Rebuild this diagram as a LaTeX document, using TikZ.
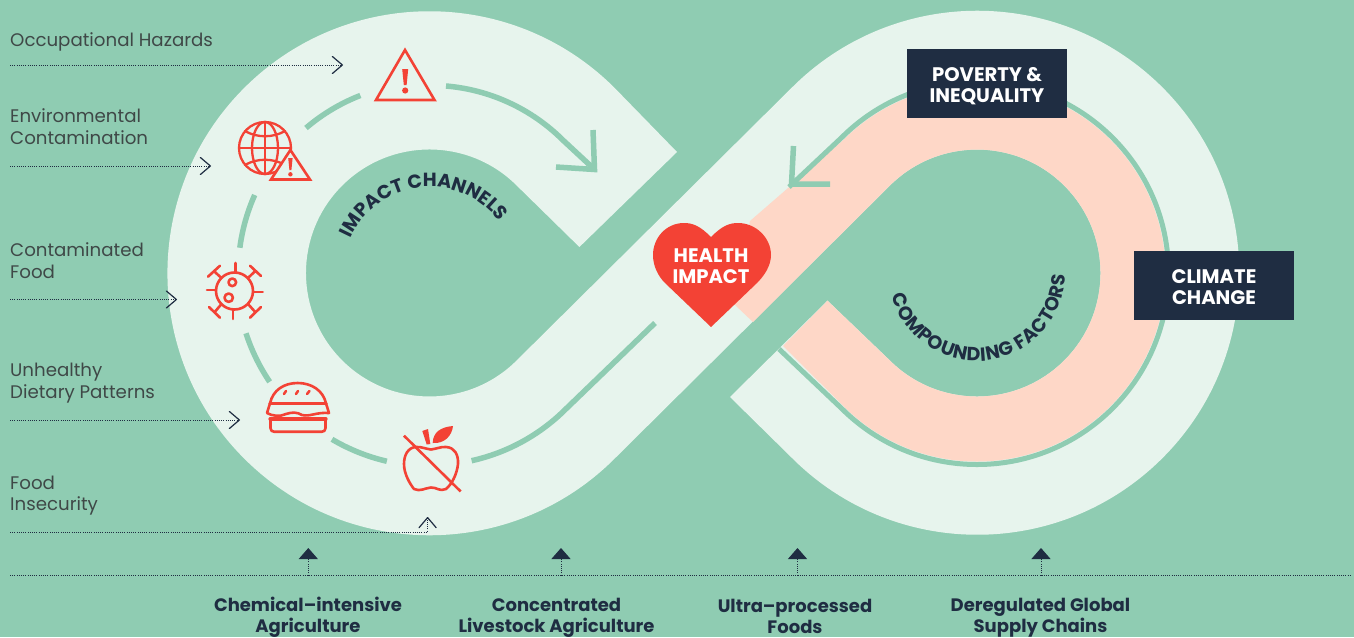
\documentclass[tikz,border=0pt]{standalone}
\usepackage{fontspec}
\setmainfont{Poppins}
\usetikzlibrary{arrows.meta,decorations.text}
\definecolor{bggreen}{HTML}{8FCCB2}
\definecolor{lightband}{HTML}{E7F4ED}
\definecolor{peach}{HTML}{FED7C7}
\definecolor{darkblue}{HTML}{1F2D42}
\definecolor{hred}{HTML}{F34235}
\definecolor{greytext}{HTML}{3F4847}
\newcommand{\lblfont}{\fontsize{18.2}{21.7}\selectfont}
\newcommand{\boldfont}{\fontsize{18}{21}\selectfont\bfseries}
\newcommand{\boxfont}{\fontsize{19.6}{21}\selectfont\bfseries}
\newcommand{\curvefont}{\fontsize{19}{19}\selectfont\bfseries\color{darkblue}}
\tikzset{
  x=1pt,y=1pt,
  lbl/.style={anchor=west,align=left,inner sep=0pt,text=greytext,font=\lblfont},
  botlbl/.style={anchor=center,align=center,inner sep=0pt,text=darkblue,font=\boldfont},
  boxlbl/.style={anchor=center,align=center,inner sep=0pt,text=white,font=\boxfont},
  darkbox/.style={fill=darkblue,draw=none,inner sep=0pt,minimum width=160pt,minimum height=69pt},
  dotline/.style={draw=darkblue,line width=1pt,dash pattern=on 1pt off 1.2pt},
  chevron/.style={dotline,-{Straight Barb[length=10pt,width=17pt,line width=1.2pt,round]}},
  tritip/.style={dotline,-{Triangle[length=11pt,width=19pt,fill=darkblue]}},
  flowline/.style={draw=bggreen,line width=5.5pt},
  icon/.style={draw=hred,line width=2.6pt,line join=round,line cap=round},
}
\begin{document}
\begin{tikzpicture}
\useasboundingbox (0,0) rectangle (1354,-637);
\fill[bggreen] (0,0) rectangle (1354,-637);
% band
\fill[lightband] (677,-152) -- (614.7,-88)
  arc[start angle=45,end angle=315,radius=262] -- (889.7,-185.7)
  arc[start angle=135,end angle=-135,radius=123.5] -- (827.5,-300.7) -- (730,-397) -- (792,-458)
  arc[start angle=225,end angle=495,radius=262] -- (516.8,-360.3)
  arc[start angle=315,end angle=45,radius=123.5] -- (579.4,-247) -- cycle;
% peach
\fill[peach] (753,-322) -- (889.7,-185.7)
  arc[start angle=135,end angle=-135,radius=123.5] -- (827.5,-300.7) -- (783,-346) -- (843.7,-406.3)
  arc[start angle=225,end angle=495,radius=188.5] -- (750,-221) -- (735,-305) -- cycle;
% flow lines
\coordinate (fa) at (789,-187);
\coordinate (fb) at (841.6,-137.6);
\coordinate (fc) at (779,-349);
\draw[draw=bggreen,line width=5pt] (fa) -- (fb) arc[start angle=135,end angle=-135,radius=191.5] -- (fc);
\draw[flowline,line join=miter] (793.5,-146) -- (791.5,-184) -- (830,-184);
\draw[flowline] (446,-86) arc[start angle=85.2,end angle=45,radius=188] -- (594,-169);
\draw[flowline,line join=miter] (593,-130) -- (594.5,-169.5) -- (556,-167);
\draw[flowline] (306,-128) arc[start angle=130.5,end angle=111.3,radius=190];
\draw[flowline] (254.7,-195) arc[start angle=156,end angle=172.5,radius=191];
\draw[flowline] (246,-333.3) arc[start angle=198,end angle=214,radius=194];
\draw[flowline] (332,-439.3) arc[start angle=239.4,end angle=257,radius=193];
\draw[flowline] (471.6,-460.7) arc[start angle=282.5,end angle=315,radius=192] -- (655,-323);
% curved titles
\path[decorate,decoration={text along path,text align={fit to path},text={|\curvefont|IMPACT CHANNELS}}]
  (350.5,-238.5) arc[start angle=156,end angle=39.5,radius=87];
\path[decorate,decoration={text along path,text align={fit to path},text={|\curvefont|COMPOUNDING FACTORS}}]
  (892,-295.8) arc[start angle=195,end angle=358.5,radius=88];
% heart
\fill[hred] (711,-237) .. controls (700,-226) and (693,-223) .. (684,-223)
  .. controls (666,-223) and (653,-238) .. (653,-255)
  .. controls (653,-266) and (658,-276) .. (665,-283) -- (711,-327) -- (757,-283)
  .. controls (764,-276) and (771,-266) .. (771,-255)
  .. controls (771,-238) and (756,-223) .. (738,-223)
  .. controls (729,-223) and (722,-226) .. (711,-237) -- cycle;
\node[boxlbl] (health) at (711,-266) {HEALTH\\IMPACT};
% boxes
\node[darkbox] (poverty) at (987,-83.5) {};
\node[boxlbl] (povertytext) at (987,-86.5) {POVERTY \&\\INEQUALITY};
\node[darkbox] (climate) at (1214,-285.5) {};
\node[boxlbl] (climatetext) at (1214,-287.5) {CLIMATE\\CHANGE};
% warning icon
\draw[icon,line cap=butt,line join=miter] (405,-50) -- (376,-100) -- (434.5,-100) -- cycle;
\fill[hred] (402.2,-69) -- (408.2,-69) -- (406.6,-85) -- (403.8,-85) -- cycle;
\fill[hred] (405.2,-90.5) circle[radius=3.1];
% globe
\begin{scope}[icon,line width=2.3pt]
\draw (265,-148) circle[radius=26];
\draw (265,-122) -- (265,-174);
\draw (239,-148) -- (291,-148);
\draw (265,-148) ellipse[x radius=13,y radius=26];
\draw (245,-131) .. controls (257,-138) and (273,-138) .. (285,-131);
\draw (245,-165) .. controls (257,-158) and (273,-158) .. (285,-165);
\end{scope}
\draw[icon,line cap=butt,line join=miter,fill=lightband] (290.4,-150) -- (271,-179.5) -- (310,-179.5) -- cycle;
\fill[hred] (288.2,-158) -- (292.6,-158) -- (291.4,-170) -- (289.4,-170) -- cycle;
\fill[hred] (290.4,-174.3) circle[radius=2.2];
% virus
\begin{scope}[icon]
\draw (234.5,-291) circle[radius=18.5];
\draw (232.3,-282.3) circle[radius=3.8];
\draw (228.7,-297.7) circle[radius=4.2];
\draw (235.7,-272) -- (235.7,-263);
\draw (254,-292) -- (262.7,-292);
\draw (233,-310) -- (233,-319);
\draw (207,-290) -- (216,-290);
\draw (208,-276.7) -- (220,-265.7) (214,-271.2) -- (221.5,-278);
\draw (250,-265.7) -- (261,-276) (255.5,-270.8) -- (248,-278);
\draw (209,-307) -- (220,-317.7) (214.5,-312.3) -- (221.5,-304);
\draw (250,-317.7) -- (261,-307) (255.5,-312.3) -- (248,-304);
\end{scope}
% burger
\begin{scope}[icon]
\draw (270,-403.3) .. controls (273,-390) and (284,-383) .. (297.7,-383) .. controls (311,-383) and (323,-390) .. (326,-403.3);
\draw[line width=3.2pt] (270,-403.3) -- (326,-403.3);
\draw (270,-403.3) -- (267,-413) .. controls (272,-416) and (280,-417) .. (286,-414) .. controls (292,-412) and (297,-412) .. (302,-415) .. controls (310,-417) and (316,-412) .. (329,-413) -- (326,-403.3);
\draw[line width=3.2pt] (270,-419) -- (326,-419);
\draw (270.5,-419) -- (270.5,-428) .. controls (270.5,-430.5) and (272,-431.7) .. (274,-431.7) -- (322,-431.7) .. controls (324,-431.7) and (325.5,-430.5) .. (325.5,-428) -- (325.5,-419);
\draw (284,-394) -- (286,-391);
\draw (296,-394) -- (298,-391);
\draw (307,-394) -- (309.5,-391);
\end{scope}
% apple
\draw[icon] (431,-449.5) .. controls (436,-449) and (441,-446.5) .. (446,-447)
  .. controls (455,-447.5) and (458.5,-455) .. (458,-464)
  .. controls (457,-474) and (452,-484) .. (446,-489)
  .. controls (440,-492) and (436,-487) .. (431,-487.5)
  .. controls (425,-488) and (420,-492) .. (414,-489)
  .. controls (410,-484) and (404,-474) .. (404,-464)
  .. controls (404,-455) and (408,-447.5) .. (416,-447)
  .. controls (421,-446.5) and (426,-449) .. (431,-449.5) -- cycle;
\draw[icon,line cap=butt] (404,-435.7) -- (460.7,-491.5);
\fill[hred] (422.3,-431) -- (428,-429) -- (430.3,-444) -- (426.7,-444.5) -- cycle;
\fill[hred] (432.7,-443) .. controls (433,-432) and (441,-427) .. (453,-426) .. controls (452,-436) and (444,-444) .. (432.7,-443) -- cycle;
% left labels
\node[lbl] (occ) at (10,-41.5) {Occupational Hazards};
\node[lbl] (env) at (10,-126.5) {Environmental\\Contamination};
\node[lbl] (food) at (10,-261) {Contaminated\\Food};
\node[lbl] (diet) at (10,-383) {Unhealthy\\Dietary Patterns};
\node[lbl] (insec) at (10,-495.5) {Food\\Insecurity};
% left connectors
\coordinate (a1) at (10,-65); \coordinate (b1) at (343,-65);
\coordinate (a2) at (10,-166); \coordinate (b2) at (211,-166);
\coordinate (a3) at (10,-299.5); \coordinate (b3) at (177,-299.5);
\coordinate (a4) at (10,-420); \coordinate (b4) at (240,-420);
\coordinate (a5) at (10,-532); \coordinate (k5) at (427.6,-532); \coordinate (b5) at (427.6,-517);
\draw[chevron] (a1) -- (b1);
\draw[chevron] (a2) -- (b2);
\draw[chevron] (a3) -- (b3);
\draw[chevron] (a4) -- (b4);
\draw[chevron] (a5) -- (k5) -- (b5);
% bottom
\coordinate (bl) at (10,-575.5); \coordinate (br) at (1351,-575.5);
\draw[dotline] (bl) -- (br);
\coordinate (t1) at (308.3,-548); \coordinate (u1) at (308.3,-575.5);
\coordinate (t2) at (561,-548); \coordinate (u2) at (561,-575.5);
\coordinate (t3) at (797.5,-548); \coordinate (u3) at (797.5,-575.5);
\coordinate (t4) at (1041,-548); \coordinate (u4) at (1041,-575.5);
\draw[tritip] (u1) -- (t1);
\draw[tritip] (u2) -- (t2);
\draw[tritip] (u3) -- (t3);
\draw[tritip] (u4) -- (t4);
\node[botlbl] (chem) at (308,-617.5) {Chemical–intensive\\Agriculture};
\node[botlbl] (live) at (556.5,-617.5) {Concentrated\\Livestock Agriculture};
\node[botlbl] (upf) at (795,-616) {Ultra–processed\\Foods};
\node[botlbl] (dereg) at (1040.5,-617.5) {Deregulated Global\\Supply Chains};
\end{tikzpicture}
\end{document}
